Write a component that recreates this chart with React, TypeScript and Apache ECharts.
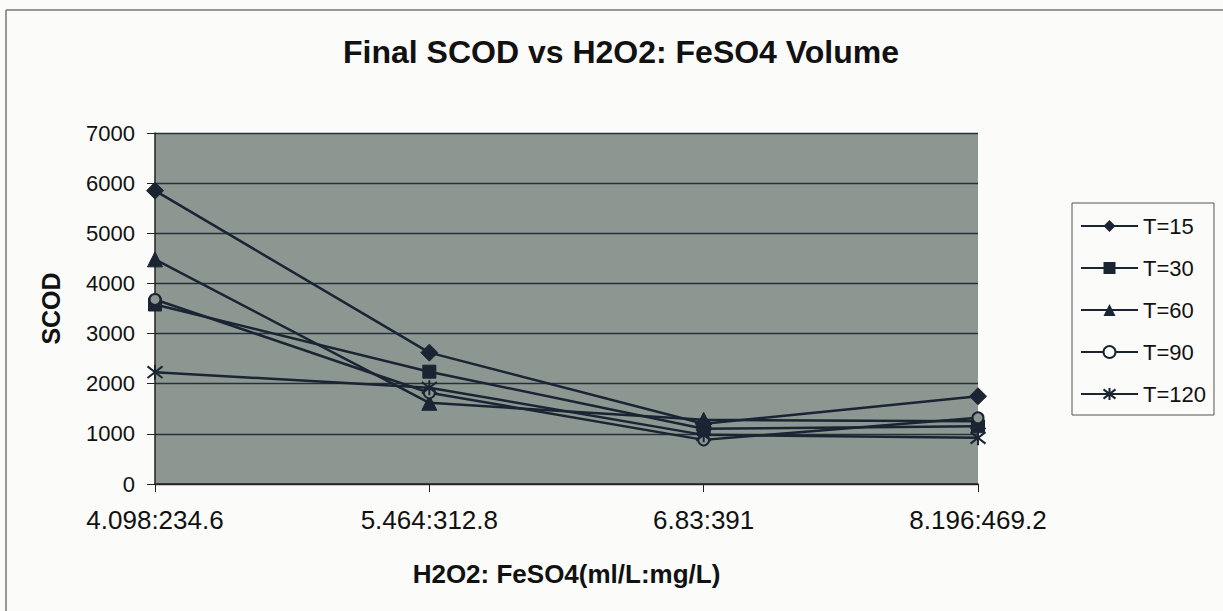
import React, { useEffect, useRef } from "react";
import * as echarts from "echarts";

const categories = ["4.098:234.6", "5.464:312.8", "6.83:391", "8.196:469.2"];
const seriesNames = ["T=15", "T=30", "T=60", "T=90", "T=120"];
const t15 = [5850, 2620, 1200, 1750];
const t30 = [3580, 2240, 1100, 1150];
const t60 = [4480, 1620, 1280, 1250];
const t90 = [3680, 1820, 880, 1320];
const t120 = [2230, 1920, 980, 920];
const yTicks = { min: 0, max: 7000, interval: 1000 };

const FONT = "Arial, 'Liberation Sans', sans-serif";
const INK = "#1b2433";
const PAPER = "#fbfbf9";
const PLOT = "#8c9792";
const STAR = "path://M0,0L10,10M10,0L0,10M5,-1.5L5,11.5";

export default function App() {
  const ref = useRef<HTMLDivElement>(null);
  useEffect(() => {
    if (!ref.current) return;
    const chart = echarts.init(ref.current, null, { renderer: "svg" });
    const mk = (name: string, data: number[], symbol: string, size: number, extra: any = {}) => ({
      name,
      type: "line",
      data,
      symbol,
      symbolSize: size,
      showSymbol: true,
      lineStyle: { color: INK, width: 2.5 },
      itemStyle: { color: INK, borderColor: INK, ...extra },
      emphasis: { disabled: true },
    });
    chart.setOption({
      animation: false,
      backgroundColor: PAPER,
      title: {
        text: "Final SCOD vs H2O2: FeSO4 Volume",
        left: 616,
        top: 31,
        textAlign: "center",
        textStyle: { fontFamily: FONT, fontSize: 32, fontWeight: "bold", color: "#111" },
      },
      legend: {
        orient: "vertical",
        left: 1072,
        top: 203,
        width: 146,
        padding: [12, 8, 10, 8],
        itemGap: 20,
        itemWidth: 57,
        itemHeight: 15,
        borderColor: "#555",
        borderWidth: 1,
        backgroundColor: PAPER,
        textStyle: { fontFamily: FONT, fontSize: 22, color: "#111" },
        data: [
          seriesNames[0],
          seriesNames[1],
          seriesNames[2],
          { name: seriesNames[3], itemStyle: { color: PAPER, borderColor: INK, borderWidth: 2 } },
          seriesNames[4],
        ],
      },
      grid: {
        left: 155,
        top: 133,
        width: 823,
        height: 351,
        show: true,
        backgroundColor: PLOT,
        borderWidth: 0,
      },
      xAxis: {
        type: "category",
        data: categories,
        boundaryGap: false,
        name: "H2O2: FeSO4(ml/L:mg/L)",
        nameLocation: "middle",
        nameGap: 77,
        nameTextStyle: { fontFamily: FONT, fontSize: 26, fontWeight: "bold", color: "#111" },
        axisLine: { lineStyle: { color: "#222", width: 1.5 } },
        axisTick: { show: true, length: 8, alignWithLabel: true, lineStyle: { color: "#222" } },
        axisLabel: { fontFamily: FONT, fontSize: 26, color: "#111", margin: 23 },
        splitLine: { show: false },
      },
      yAxis: {
        type: "value",
        min: yTicks.min,
        max: yTicks.max,
        interval: yTicks.interval,
        name: "SCOD",
        nameLocation: "middle",
        nameGap: 92,
        nameTextStyle: { fontFamily: FONT, fontSize: 25, fontWeight: "bold", color: "#111" },
        axisLine: { show: true, lineStyle: { color: "#222", width: 1.5 } },
        axisTick: { show: true, length: 8, lineStyle: { color: "#222" } },
        axisLabel: {
          fontFamily: FONT,
          fontSize: 22,
          color: "#111",
          margin: 20,
          formatter: (v: number) => String(v),
        },
        splitLine: { show: true, lineStyle: { color: "#26303c", width: 1.4 } },
      },
      graphic: [
        { type: "line", shape: { x1: 6, y1: 10, x2: 1223, y2: 10 }, style: { stroke: "#777", lineWidth: 1.5 } },
        { type: "line", shape: { x1: 6, y1: 10, x2: 6, y2: 611 }, style: { stroke: "#777", lineWidth: 1.5 } },
      ],
      series: [
        mk(seriesNames[0], t15, "diamond", 17),
        mk(seriesNames[1], t30, "rect", 13),
        mk(seriesNames[2], t60, "triangle", 15),
        mk(seriesNames[3], t90, "circle", 11, { color: PLOT, borderWidth: 2 }),
        mk(seriesNames[4], t120, STAR, 15, { color: "none", borderWidth: 2 }),
      ],
    });
    return () => chart.dispose();
  }, []);
  return (
    <div
      ref={ref}
      style={{ position: "fixed", left: 0, top: 0, width: 1223, height: 611 }}
    />
  );
}
